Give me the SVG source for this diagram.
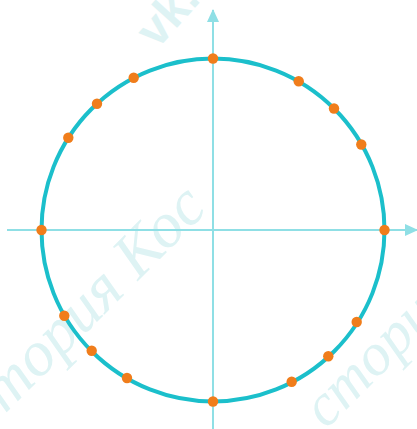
<svg xmlns="http://www.w3.org/2000/svg" width="417" height="429" viewBox="0 0 417 429">
  <style>
    .wm { font-family: "Liberation Serif", serif; font-style: italic; fill: #def3f4; }
    .wmb { font-family: "Liberation Sans", sans-serif; font-weight: bold; fill: #def3f4; }
    .axis { stroke: #8fdfe5; stroke-width: 2; fill: none; }
    .circ { stroke: #1bbfcb; stroke-width: 4; fill: none; }
    .pt { fill: #f07d1b; }
  </style>
  <defs>
    <marker id="arr" viewBox="0 0 13 12" refX="12" refY="6" markerWidth="13" markerHeight="12" markerUnits="userSpaceOnUse" orient="auto">
      <path d="M0,0 L13,6 L0,12 Z" fill="#8fdfe5"/>
    </marker>
  </defs>
  <rect width="417" height="429" fill="#ffffff"/>
  <g id="watermark">
    <text class="wmb" font-size="48" transform="translate(157,50) rotate(-48)">vk.</text>
    <text class="wm" font-size="64" text-anchor="end" transform="translate(209,210) rotate(-45)">тория Кос</text>
    <text class="wm" font-size="60" transform="translate(326,430) rotate(-45)">стори</text>
  </g>
  <g id="connectors">
    <line class="axis" x1="213" y1="429" x2="213" y2="10" marker-end="url(#arr)"/>
    <line class="axis" x1="7" y1="230" x2="417" y2="230" marker-end="url(#arr)"/>
  </g>
  <g id="circle">
    <circle class="circ" cx="213" cy="230" r="171.5"/>
  </g>
  <g id="points">
    <circle id="p0" class="pt" cx="384.5" cy="230" r="5.2"/>
    <circle id="p30" class="pt" cx="361.3" cy="144.5" r="5.2"/>
    <circle id="p45" class="pt" cx="334" cy="108.5" r="5.2"/>
    <circle id="p60" class="pt" cx="298.7" cy="81.3" r="5.2"/>
    <circle id="p90" class="pt" cx="213" cy="58.5" r="5.2"/>
    <circle id="p118" class="pt" cx="133.7" cy="77.7" r="5.2"/>
    <circle id="p133" class="pt" cx="97" cy="103.7" r="5.2"/>
    <circle id="p148" class="pt" cx="68.3" cy="137.7" r="5.2"/>
    <circle id="p180" class="pt" cx="41.5" cy="230" r="5.2"/>
    <circle id="p210" class="pt" cx="64.3" cy="315.7" r="5.2"/>
    <circle id="p225" class="pt" cx="91.7" cy="350.7" r="5.2"/>
    <circle id="p240" class="pt" cx="127" cy="378" r="5.2"/>
    <circle id="p270" class="pt" cx="213" cy="401.5" r="5.2"/>
    <circle id="p297" class="pt" cx="291.7" cy="381.7" r="5.2"/>
    <circle id="p312" class="pt" cx="328.3" cy="356.3" r="5.2"/>
    <circle id="p327" class="pt" cx="356.7" cy="322" r="5.2"/>
  </g>
</svg>
